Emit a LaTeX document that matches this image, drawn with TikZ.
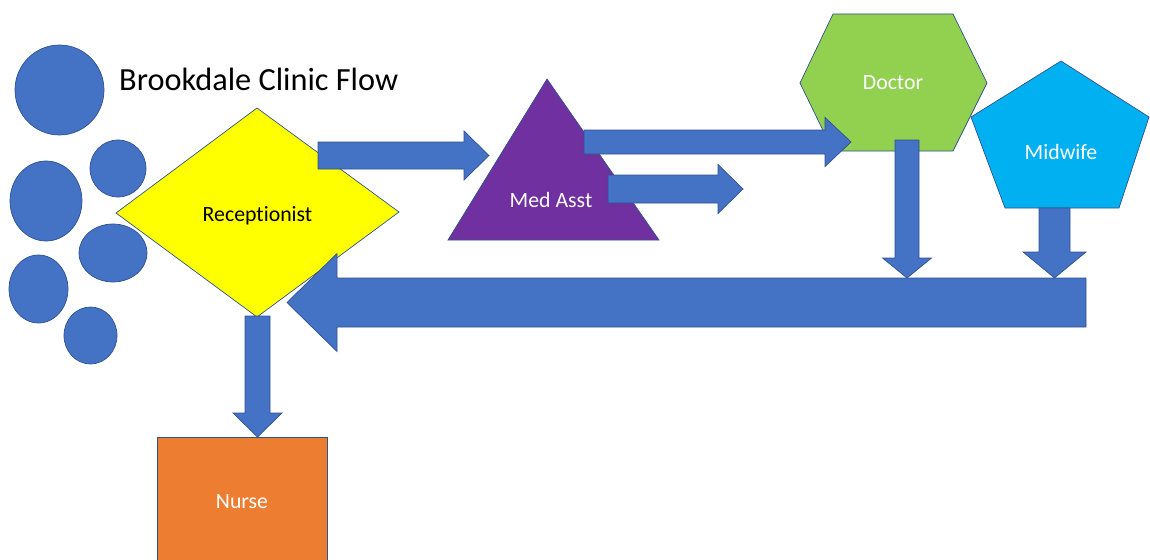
\documentclass[tikz,border=0pt]{standalone}
\usepackage{fontspec}
\setmainfont{Carlito}[Ligatures=NoCommon]
\usetikzlibrary{calc}
\definecolor{ablue}{HTML}{4472C4}
\definecolor{edgeblue}{HTML}{2F528F}
\definecolor{ryellow}{HTML}{FFFF00}
\definecolor{mpurple}{HTML}{7030A0}
\definecolor{dgreen}{HTML}{92D050}
\definecolor{wcyan}{HTML}{00B0F0}
\definecolor{norange}{HTML}{ED7D31}
\tikzset{
  shp/.style={draw=edgeblue, line width=0.7pt, line join=miter},
  blockarr/.style={fill=ablue, draw=edgeblue, line width=0.7pt, line join=miter},
  person/.style={fill=ablue, draw=edgeblue, line width=0.7pt},
  lbl/.style={font=\fontsize{21.8}{24}\selectfont, anchor=base, inner sep=0pt},
}
\newcommand\blockarrow[5]{%
  \coordinate (ba-h) at ($(#2)!#5!(#1)$);
  \draw[blockarr] ($(#1)!#3!90:(#2)$) -- ($(ba-h)!#3!90:(#2)$) -- ($(ba-h)!#4!90:(#2)$) -- (#2)
    -- ($(ba-h)!#4!-90:(#2)$) -- ($(ba-h)!#3!-90:(#2)$) -- ($(#1)!#3!-90:(#2)$) -- cycle;}
\begin{document}
\begin{tikzpicture}[x=1pt, y=-1pt]
\useasboundingbox (0,0) rectangle (1150,559);
\clip (0,0) rectangle (1150,559);
% people
\draw[person] (59.5,90) ellipse [x radius=44.5, y radius=45];
\draw[person] (118,168.5) ellipse [x radius=28, y radius=28.5];
\draw[person] (46,201) ellipse [x radius=36, y radius=40];
\draw[person] (113,253) ellipse [x radius=34, y radius=29];
\draw[person] (38.5,289) ellipse [x radius=29.5, y radius=34];
\draw[person] (90.5,335.5) ellipse [x radius=26.5, y radius=28.5];
% title
\node[anchor=base west, inner sep=0pt, font=\fontsize{32.3}{36}\selectfont] (title) at (119,91) {Brookdale Clinic Flow};
% receptionist diamond
\draw[shp, fill=ryellow] (116,213) -- (257,108) -- (399,212) -- (257,317) -- cycle;
\node[lbl] (recep) at (257.5,221) {Receptionist};
% med asst triangle
\draw[shp, fill=mpurple] (547,79) -- (659,240) -- (448,240) -- cycle;
\node[lbl, text=white] (medasst) at (551,207) {Med Asst};
% doctor hexagon
\draw[shp, fill=dgreen] (833,14) -- (953,14) -- (987,83) -- (953,151) -- (833,151) -- (800,83) -- cycle;
\node[lbl, text=white] (doctor) at (893,90) {Doctor};
% midwife pentagon
\draw[shp, fill=wcyan] (1061,61) -- (1149,117) -- (1119,208) -- (1005,208) -- (971,117) -- cycle;
\node[lbl, text=white] (midwife) at (1061,159) {Midwife};
% nurse rectangle
\draw[shp, fill=norange] (157,437) rectangle (327,570);
\node[lbl, text=white] (nurse) at (242,508) {Nurse};
% arrow end points
\coordinate (a1s) at (318,155.5);  \coordinate (a1t) at (489,155.5);
\coordinate (a2s) at (584,142);    \coordinate (a2t) at (851,142);
\coordinate (a3s) at (608,189);    \coordinate (a3t) at (743,189);
\coordinate (a4s) at (907,140);    \coordinate (a4t) at (907,278);
\coordinate (a5s) at (1054.5,208); \coordinate (a5t) at (1054.5,278);
\coordinate (a6s) at (1086,302.5); \coordinate (a6t) at (287,302.5);
\coordinate (a7s) at (257.5,316);  \coordinate (a7t) at (257.5,437);
% arrows
\blockarrow{a1s}{a1t}{13.5pt}{24.5pt}{25pt}
\blockarrow{a2s}{a2t}{12pt}{24.5pt}{26pt}
\blockarrow{a3s}{a3t}{14pt}{24.5pt}{25pt}
\blockarrow{a6s}{a6t}{24.5pt}{49pt}{50pt}
\blockarrow{a4s}{a4t}{12pt}{24.5pt}{20pt}
\blockarrow{a5s}{a5t}{15.5pt}{31.5pt}{26pt}
\blockarrow{a7s}{a7t}{12.5pt}{24.5pt}{24pt}
\end{tikzpicture}
\end{document}
